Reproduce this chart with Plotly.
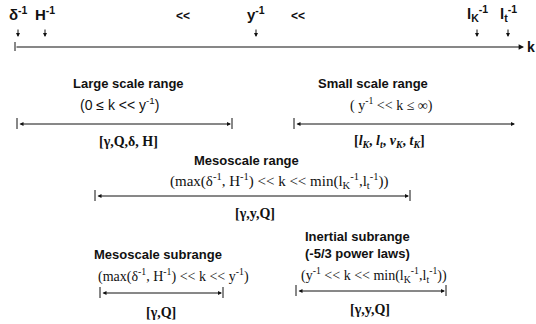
import plotly.graph_objects as go

# Characteristic inverse length scales along the wavenumber axis
scale_labels = ["δ<sup>-1</sup>", "H<sup>-1</sup>", "y<sup>-1</sup>",
                "l<sub>K</sub><sup>-1</sup>", "l<sub>t</sub><sup>-1</sup>"]
order_signs = ["<<", "<<"]
axis_label = "k"

# Ranges of the spectrum: title, defining inequality, governing parameters
range_titles = ["Large scale range", "Small scale range", "Mesoscale range",
                "Mesoscale subrange", "Inertial subrange<br>(-5/3 power laws)"]
range_bounds = [
    "(0 ≤ k << y<sup>-1</sup>)",
    "( y<sup>-1</sup> << k ≤ ∞)",
    "(max(δ<sup>-1</sup>, H<sup>-1</sup>) << k << min(l<sub>K</sub><sup>-1</sup>,l<sub>t</sub><sup>-1</sup>))",
    "(max(δ<sup>-1</sup>, H<sup>-1</sup>) << k << y<sup>-1</sup>)",
    "(y<sup>-1</sup> << k << min(l<sub>K</sub><sup>-1</sup>,l<sub>t</sub><sup>-1</sup>))",
]
range_params = ["[γ,Q,δ, H]", "[<i>l<sub>K</sub></i>, <i>l<sub>t</sub></i>, <i>v<sub>K</sub></i>, <i>t<sub>K</sub></i>]",
                "[γ,y,Q]", "[γ,Q]", "[γ,y,Q]"]

# Layout (pixel coordinates of the drawing)
scale_x = [18, 45, 256, 477, 508]
sign_x = [183, 298]
axis_y = 47
title_pos = [(128, 83), (373, 83), (246, 160), (158, 254), (357, 245)]
bound_pos = [(119, 104), (391, 104), (279, 181), (173, 275), (374, 275)]
bound_font = [("sans", 14), ("serif", 14), ("serif", 15), ("serif", 14), ("serif", 14)]
span_pos = [(17, 232, 124), (294, 516, 124), (95, 410, 196), (100, 223, 293), (296, 446, 291)]
param_pos = [(128, 141), (389, 141), (255, 213), (161, 312), (370, 309)]
end_ticks = [(True, True), (True, False), (True, True), (True, True), (True, True)]

INK = "#111111"
SANS = "Liberation Sans, Arial, sans-serif"
SERIF = "Liberation Serif, Times New Roman, serif"

fig = go.Figure()
ann = []
shapes = []

# Scale symbols with small down-pointing arrows
for lbl, x in zip(scale_labels, scale_x):
    ann.append(dict(x=x, y=13, text="<b>" + lbl + "</b>", showarrow=False,
                    font=dict(family=SANS, size=15, color=INK)))
    ann.append(dict(x=x, y=37, ax=x, ay=28, axref="x", ayref="y", text="",
                    showarrow=True, arrowhead=2, arrowsize=0.8, arrowwidth=1,
                    arrowcolor=INK))
for s, x in zip(order_signs, sign_x):
    ann.append(dict(x=x, y=16, text="<b>" + s + "</b>", showarrow=False,
                    font=dict(family=SANS, size=12, color=INK)))

# Main wavenumber axis
ann.append(dict(x=524, y=axis_y, ax=15, ay=axis_y, axref="x", ayref="y", text="",
                showarrow=True, arrowhead=2, arrowsize=0.9, arrowwidth=1.2,
                arrowcolor=INK))
shapes.append(dict(type="line", x0=15, x1=15, y0=axis_y - 5, y1=axis_y + 4,
                   line=dict(color=INK, width=1)))
ann.append(dict(x=531, y=axis_y, text="<b>" + axis_label + "</b>", showarrow=False,
                font=dict(family=SANS, size=14, color=INK)))

# Spectral ranges
for i in range(len(range_titles)):
    tx, ty = title_pos[i]
    ann.append(dict(x=tx, y=ty, text="<b>" + range_titles[i] + "</b>", showarrow=False,
                    font=dict(family=SANS, size=13, color=INK)))
    bx, by = bound_pos[i]
    fam_key, fsize = bound_font[i]
    fam = SANS if fam_key == "sans" else SERIF
    ann.append(dict(x=bx, y=by, text=range_bounds[i], showarrow=False,
                    font=dict(family=fam, size=fsize, color=INK)))
    x0, x1, y = span_pos[i]
    ann.append(dict(x=x1 - 1, y=y, ax=x0 + 1, ay=y, axref="x", ayref="y", text="",
                    showarrow=True, arrowhead=2, arrowside="end+start",
                    arrowsize=0.8, arrowwidth=1, arrowcolor=INK))
    left, right = end_ticks[i]
    if left:
        shapes.append(dict(type="line", x0=x0, x1=x0, y0=y - 6, y1=y + 5,
                           line=dict(color=INK, width=1)))
    if right:
        shapes.append(dict(type="line", x0=x1, x1=x1, y0=y - 6, y1=y + 5,
                           line=dict(color=INK, width=1)))
    px, py = param_pos[i]
    ann.append(dict(x=px, y=py, text="<b>" + range_params[i] + "</b>", showarrow=False,
                    font=dict(family=SERIF, size=14, color=INK)))

fig.update_layout(
    width=536, height=324,
    margin=dict(l=0, r=0, t=0, b=0),
    paper_bgcolor="white", plot_bgcolor="white",
    xaxis=dict(range=[0, 536], visible=False, fixedrange=True),
    yaxis=dict(range=[324, 0], visible=False, fixedrange=True),
    annotations=ann, shapes=shapes, showlegend=False,
)

fig.write_html("out.html")
